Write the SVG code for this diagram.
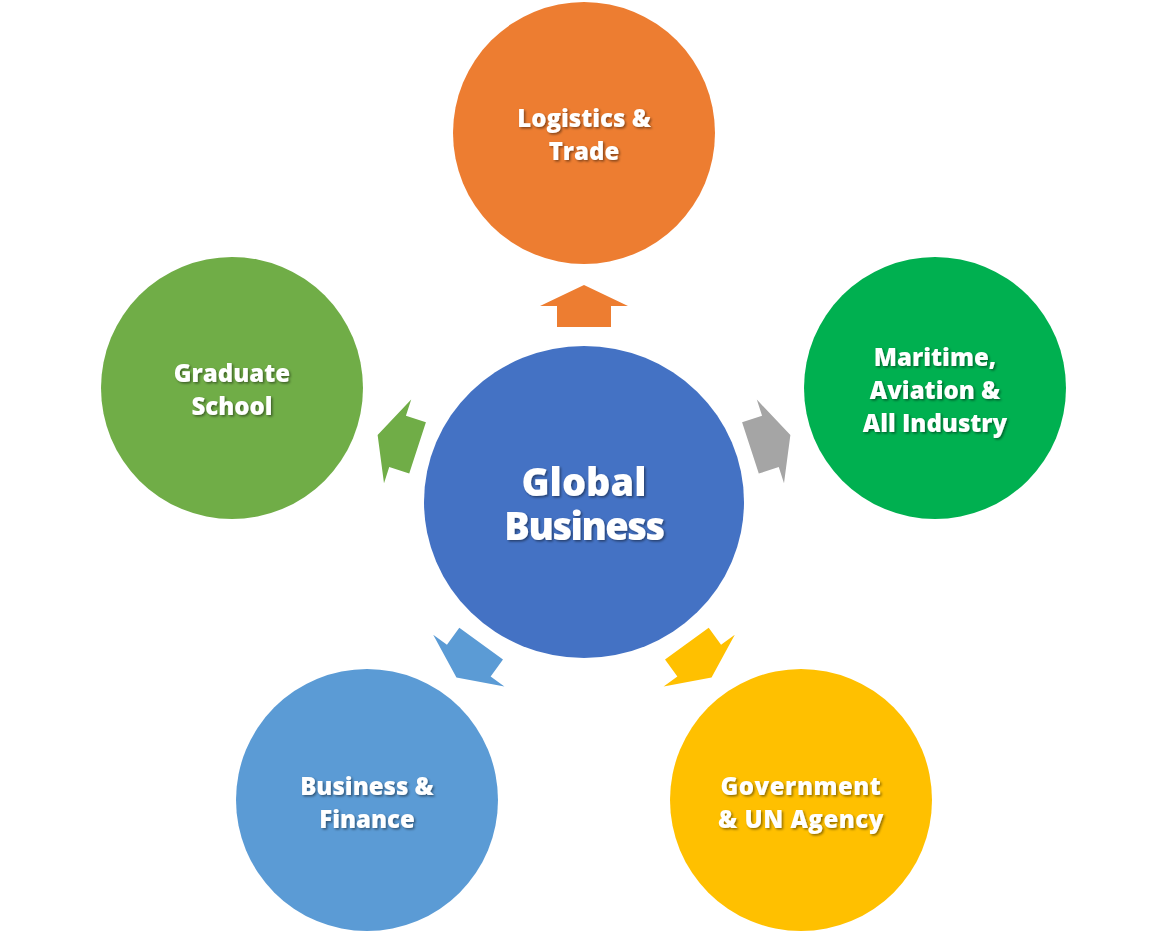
<svg xmlns="http://www.w3.org/2000/svg" width="1167" height="934" viewBox="0 0 1167 934">
<defs>
<filter id="sh" x="-10%" y="-20%" width="120%" height="140%">
<feDropShadow dx="1.5" dy="1.5" stdDeviation="1" flood-color="#000" flood-opacity="0.45"/>
</filter>
<polygon id="arr" points="-27,-175 -27,-196 -44,-196 0,-217 44,-196 27,-196 27,-175"/>
</defs>
<style>
text{font-family:"Open Sans","Liberation Sans",sans-serif;font-weight:800;fill:#fff;text-anchor:middle;filter:url(#sh)}
.s{font-size:24px}
.c{font-size:38px}
</style>
<rect width="1167" height="934" fill="#fff"/>
<g id="connectors">
<use href="#arr" fill="#ED7D31" transform="translate(584,502)"/>
<use href="#arr" fill="#A5A5A5" transform="translate(584,502) rotate(72)"/>
<use href="#arr" fill="#FFC000" transform="translate(584,502) rotate(144)"/>
<use href="#arr" fill="#5B9BD5" transform="translate(584,502) rotate(216)"/>
<use href="#arr" fill="#70AD47" transform="translate(584,502) rotate(288)"/>
</g>
<g id="center">
<ellipse cx="584" cy="502" rx="160" ry="156" fill="#4472C4"/>
<text class="c"><tspan x="584" y="496">Global</tspan><tspan x="584" y="540" letter-spacing="-1.5">Business</tspan></text>
</g>
<g id="logistics">
<circle cx="584" cy="133" r="131" fill="#ED7D31"/>
<text class="s"><tspan x="584" y="127">Logistics &amp;</tspan><tspan x="584" y="160">Trade</tspan></text>
</g>
<g id="maritime">
<circle cx="935" cy="388" r="131" fill="#00B050"/>
<text class="s"><tspan x="935" y="366">Maritime,</tspan><tspan x="935" y="399">Aviation &amp;</tspan><tspan x="935" y="432">All Industry</tspan></text>
</g>
<g id="government">
<circle cx="801" cy="800" r="131" fill="#FFC000"/>
<text class="s"><tspan x="801" y="795" letter-spacing="0.5">Government</tspan><tspan x="801" y="828" letter-spacing="0.5">&amp; UN Agency</tspan></text>
</g>
<g id="business">
<circle cx="367" cy="800" r="131" fill="#5B9BD5"/>
<text class="s"><tspan x="367" y="795">Business &amp;</tspan><tspan x="367" y="828">Finance</tspan></text>
</g>
<g id="graduate">
<circle cx="232" cy="388" r="131" fill="#70AD47"/>
<text class="s"><tspan x="232" y="382">Graduate</tspan><tspan x="232" y="415">School</tspan></text>
</g>
</svg>
